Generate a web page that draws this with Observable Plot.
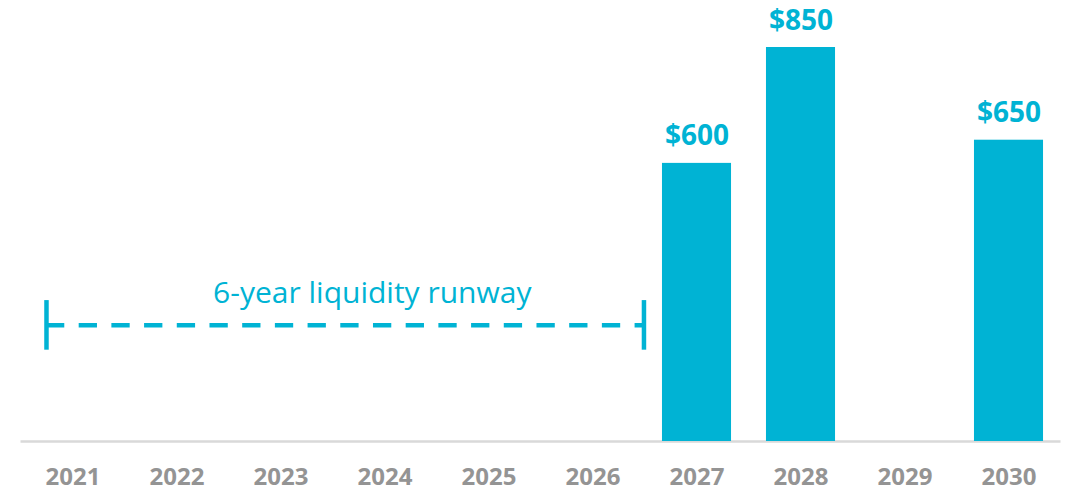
<!DOCTYPE html>
<html>
<head>
<meta charset="utf-8">
<script src="https://cdn.jsdelivr.net/npm/d3@7"></script>
<script src="https://cdn.jsdelivr.net/npm/@observablehq/plot@0.6"></script>
<style>
  html, body { margin: 0; padding: 0; background: #fff; }
  svg { display: block; }
</style>
</head>
<body>
<div id="chart"></div>
<script>
const years = [2021, 2022, 2023, 2024, 2025, 2026, 2027, 2028, 2029, 2030];
const maturities = [0, 0, 0, 0, 0, 0, 600, 850, 0, 650];
const runwayLabel = "6-year liquidity runway";
const runwayStart = 2020.745;
const runwayEnd = 2026.49;
const runwayLevel = 251;
const runwayCapLow = 197;
const runwayCapHigh = 304;

const barColor = "#00B3D4";
const data = years.map((year, i) => ({ year, value: maturities[i] })).filter(d => d.value > 0);
const half = 0.332;

const chart = Plot.plot({
  width: 1066,
  height: 489,
  marginLeft: 20.5,
  marginRight: 5.5,
  marginTop: 47,
  marginBottom: 48,
  style: { background: "#fff", fontFamily: "'Open Sans', sans-serif", overflow: "visible" },
  x: { domain: [2020.5, 2030.5], axis: null },
  y: { domain: [0, 850], axis: null },
  marks: [
    Plot.ruleY([0], { stroke: "#d9d9d9", strokeWidth: 2.5 }),
    Plot.rectY(data, { x1: d => d.year - half, x2: d => d.year + half, y1: 0, y2: "value", fill: barColor }),
    Plot.text(data, {
      x: "year", y: "value", text: d => "$" + d.value, dy: -18, lineAnchor: "bottom",
      fill: barColor, fontSize: 28, fontWeight: "bold"
    }),
    Plot.axisX({
      ticks: years, tickFormat: d => String(d), tickSize: 0, tickPadding: 26,
      fontSize: 24, fontWeight: "bold", color: "#949494", anchor: "bottom", label: null
    }),
    Plot.ruleY([runwayLevel], {
      x1: runwayStart, x2: runwayEnd, stroke: barColor, strokeWidth: 4.5,
      strokeDasharray: "18.3,14.4"
    }),
    Plot.ruleX([runwayStart, runwayEnd], {
      y1: runwayCapLow, y2: runwayCapHigh, stroke: barColor, strokeWidth: 4.5
    }),
    Plot.text([runwayLabel], {
      x: (runwayStart + runwayEnd) / 2 + 0.26, y: 298, text: d => d, lineAnchor: "bottom",
      fill: barColor, fontSize: 30, fontWeight: "normal"
    })
  ]
});
document.getElementById("chart").append(chart);
</script>
</body>
</html>
